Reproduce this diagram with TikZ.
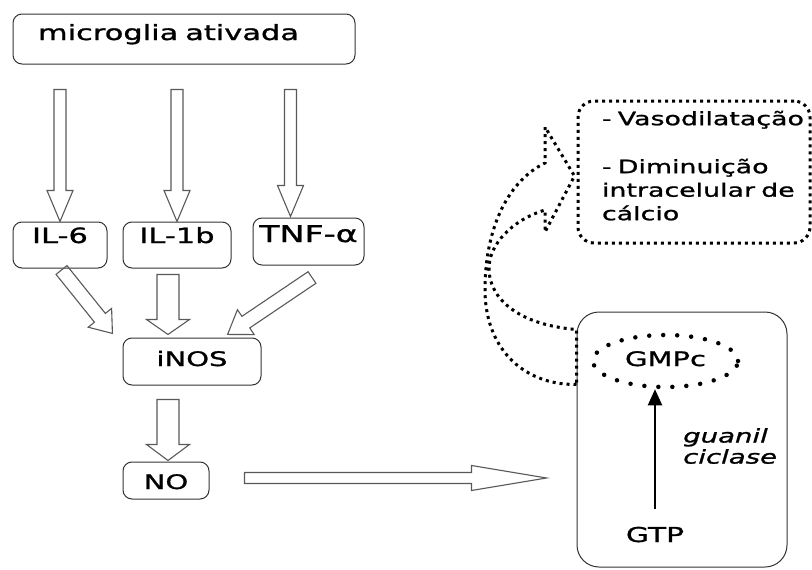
\documentclass[tikz,border=0pt]{standalone}
\usepackage{fontspec}
\setmainfont{DejaVu Sans}[FakeStretch=1.45, FakeBold=1.2]
\usetikzlibrary{calc,shapes.geometric,arrows.meta}

\newcommand{\bigfont}{\fontsize{19}{23.5}\selectfont}

\tikzset{
  box/.style={draw=black!80, line width=1pt, rounded corners=9pt, inner sep=0pt, text height=15pt},
  blk/.style={draw=black!65, line width=1.1pt},
  dotline/.style={line width=3pt, dash pattern=on 3pt off 4pt},
  sz/.style={font=\fontsize{#1}{#1}\selectfont},
}

% hollow block arrow: start, tip, shaft half width, head half width, head length
\newcommand{\hollowarrow}[5]{%
  \draw[blk] let \p1=(#1), \p2=(#2), \n1={atan2(\y2-\y1,\x2-\x1)},
    \n2={veclen(\x2-\x1,\y2-\y1)-#5}, \n3={veclen(\x2-\x1,\y2-\y1)} in
    [shift={(\p1)}, rotate=\n1]
    (0pt,#3pt) -- (\n2,#3pt) -- (\n2,#4pt) -- (\n3,0pt) -- (\n2,-#4pt) -- (\n2,-#3pt) -- (0pt,-#3pt) -- cycle;}

\begin{document}
\begin{tikzpicture}[x=1pt, y=-1pt, font=\bigfont]
\useasboundingbox (0,0) rectangle (812,570);

% left column
\node[box, sz=21, minimum height=50pt, text width=292pt, inner xsep=25pt, align=left, text depth=13pt] (mic) at (184,39) {microglia ativada};
\node[box, sz=21, minimum width=94pt, minimum height=46pt, text depth=19pt] (il6) at (60,245) {IL-6};
\node[box, sz=21, minimum width=108pt, minimum height=46pt, text depth=19pt] (il1b) at (177,245) {IL-1b};
\node[box, sz=23, minimum width=111pt, minimum height=47pt, text height=16pt, text depth=15pt] (tnf) at (308.5,241.5) {TNF-α};
\node[box, sz=20, minimum width=138pt, minimum height=47pt, text depth=6pt] (inos) at (192,361.5) {iNOS};
\node[box, sz=20, minimum width=86pt, minimum height=37pt, text height=17pt, text depth=0pt] (no) at (166,480.5) {NO};

\hollowarrow{$(mic.south -| il6.north)+(0,25)$}{il6.north}{6}{13}{31}
\hollowarrow{$(mic.south -| il1b.north)+(0,25)$}{il1b.north}{6}{13}{31}
\hollowarrow{$(mic.south -| tnf.north)+(-18,25)$}{$(tnf.north)+(-18,-1)$}{6}{13}{31}

\hollowarrow{$(il6.south)+(1.5,1.5)$}{$(inos.north west)+(-10,-4)$}{7}{15}{20}
\hollowarrow{$(il1b.south)+(-9,6)$}{$(inos.north)+(-24,-3)$}{11}{21.5}{15}
\hollowarrow{$(tnf.south)+(3.5,12)$}{$(inos.north east)+(-34,-3)$}{7}{15}{22}
\hollowarrow{$(inos.south)+(-24,14)$}{$(no.north)+(2,-1)$}{11}{21.5}{16}

% cell
\node[box, rounded corners=22pt, minimum width=210pt, minimum height=255pt] (cell) at (682,439.5) {};
\node[ellipse, draw, sz=20, line width=4.5pt, line cap=round, dash pattern=on 0pt off 14pt,
  minimum width=145pt, minimum height=52pt, inner sep=0pt, text height=15pt, text depth=5pt] (gmpc) at (665.5,361) {GMPc};
\node[sz=20.5, anchor=base, inner sep=2pt] (gtp) at (655,542) {GTP};
\node[anchor=west, align=left, inner sep=0pt, font=\fontsize{19}{21}\selectfont\itshape] (gc) at (683,446) {guanil\\ciclase};
\draw[line width=2pt, -{Triangle[length=16pt,width=14pt]}, shorten <=16pt] (gtp.north) -- (gtp.north |- gmpc.south);

\hollowarrow{$(no.east)+(35,-2.5)$}{$(no.east -| cell.west)+(-30,-2.5)$}{5.5}{12.5}{75}

% effects
\node[draw, dotline, font=\fontsize{18.5}{23.5}\selectfont, rounded corners=16pt, minimum width=232pt, minimum height=142pt, text width=184pt,
  inner xsep=24pt, inner ysep=0pt, align=left] (eff) at (694,172)
  {\mbox{- Vasodilatação}\\[24.5pt]\mbox{- Diminuição}\\\mbox{intracelular de}\\cálcio\rule[-13pt]{0pt}{0pt}};

\draw[dotline] ($(cell.north west)+(0,73)$) .. controls (520,385) and (485,345) .. (485,290)
  .. controls (485,225) and (510,180) .. (545,163) -- (545,127) -- ($(eff.west)+(-2,4)$) -- (545,232) -- (545,210)
  .. controls (512,220) and (488,245) .. (489,270) .. controls (490,300) and (520,325) .. ($(cell.north west)+(0,18)$) -- cycle;

\end{tikzpicture}
\end{document}
